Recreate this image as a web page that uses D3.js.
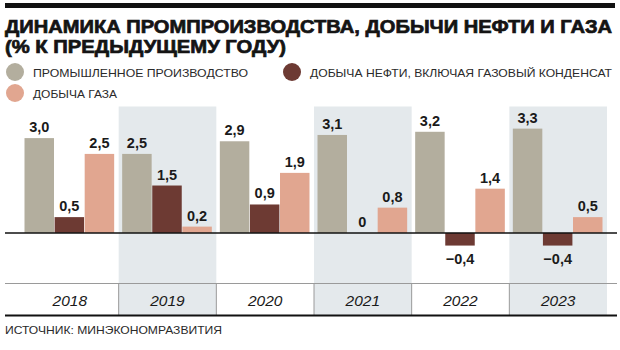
<!DOCTYPE html>
<html>
<head>
<meta charset="utf-8">
<script src="https://cdn.jsdelivr.net/npm/d3@7"></script>
<style>
  html, body { margin: 0; padding: 0; background: #fff; }
  svg { display: block; }
</style>
</head>
<body>
<svg id="chart" width="620" height="350"></svg>
<script>
const years = ["2018", "2019", "2020", "2021", "2022", "2023"];
const seriesNames = [
  "ПРОМЫШЛЕННОЕ ПРОИЗВОДСТВО",
  "ДОБЫЧА НЕФТИ, ВКЛЮЧАЯ ГАЗОВЫЙ КОНДЕНСАТ",
  "ДОБЫЧА ГАЗА"
];
const industry = [3.0, 2.5, 2.9, 3.1, 3.2, 3.3];
const oil = [0.5, 1.5, 0.9, 0, -0.4, -0.4];
const gas = [2.5, 0.2, 1.9, 0.8, 1.4, 0.5];
const colors = ["#b3ae9e", "#6d3a33", "#e1a690"];
const shadedYears = ["2019", "2021", "2023"];
const titleLines = ["ДИНАМИКА ПРОМПРОИЗВОДСТВА, ДОБЫЧИ НЕФТИ И ГАЗА", "(% К ПРЕДЫДУЩЕМУ ГОДУ)"];
const sourceText = "ИСТОЧНИК: МИНЭКОНОМРАЗВИТИЯ";

const svg = d3.select("#chart");
const seriesValues = [industry, oil, gas];

// top rule
svg.append("rect").attr("x", 5).attr("y", 3).attr("width", 610).attr("height", 5).attr("fill", "#111");

// title
const tl = [[33, 607], [53, 281]];
titleLines.forEach((t, i) => {
  svg.append("text").attr("x", 5).attr("y", tl[i][0])
    .attr("font-family", "Liberation Sans, Arial, sans-serif")
    .attr("font-weight", "bold").attr("font-size", 18.5)
    .attr("fill", "#141414").attr("stroke", "#141414").attr("stroke-width", 0.7)
    .attr("textLength", tl[i][1]).attr("lengthAdjust", "spacingAndGlyphs")
    .text(t);
});

// legend
const legendPos = [{cx: 15, cy: 72, tx: 33, ty: 76.5, w: 215}, {cx: 292, cy: 72, tx: 310, ty: 76.5, w: 302}, {cx: 15, cy: 93, tx: 33, ty: 98, w: 84}];
seriesNames.forEach((n, i) => {
  const p = legendPos[i];
  svg.append("circle").attr("cx", p.cx).attr("cy", p.cy).attr("r", 9).attr("fill", colors[i]);
  svg.append("text").attr("x", p.tx).attr("y", p.ty)
    .attr("font-family", "Liberation Sans, Arial, sans-serif")
    .attr("font-size", 11.5).attr("fill", "#2a2a2a")
    .attr("textLength", p.w).attr("lengthAdjust", "spacingAndGlyphs")
    .text(n);
});

// scales
const x = d3.scaleBand().domain(years).range([21, 607]).padding(0);
const xs = d3.scaleBand().domain(d3.range(3)).range([3.5, x.bandwidth() - 4.5]).paddingInner(0.02);
const y = d3.scaleLinear().domain([-1.6, 4.0]).range([283.5, 106.5]);

// shaded bands
svg.append("g").selectAll("rect").data(shadedYears).join("rect")
  .attr("x", d => x(d)).attr("y", y(4.0)).attr("width", x.bandwidth())
  .attr("height", 315 - y(4.0)).attr("fill", "#e4e9ec");

// bars
const groups = svg.append("g").selectAll("g").data(years).join("g")
  .attr("transform", d => `translate(${x(d)},0)`);
groups.each(function(yr, yi) {
  const g = d3.select(this);
  seriesValues.forEach((vals, si) => {
    const v = vals[yi];
    g.append("rect")
      .attr("x", xs(si)).attr("width", xs.bandwidth())
      .attr("y", y(Math.max(0, v))).attr("height", Math.abs(y(v) - y(0)))
      .attr("fill", colors[si]);
    const label = (v < 0 ? "\u2212" : "") + (v === 0 ? "0" : d3.format(".1f")(Math.abs(v)).replace(".", ","));
    g.append("text")
      .attr("x", xs(si) + xs.bandwidth() / 2)
      .attr("y", v < 0 ? y(v) + 18 : y(v) - 6)
      .attr("text-anchor", "middle")
      .attr("font-family", "Liberation Sans, Arial, sans-serif")
      .attr("font-weight", "bold").attr("font-size", 14.5)
      .attr("fill", "#1a1a1a")
      .text(label);
  });
});

// zero line
svg.append("line").attr("x1", 5).attr("x2", 617).attr("y1", y(0)).attr("y2", y(0))
  .attr("stroke", "#111").attr("stroke-width", 1.6);

// year axis area
svg.append("line").attr("x1", 5).attr("x2", 617).attr("y1", y(-1.6)).attr("y2", y(-1.6))
  .attr("stroke", "#9a9a9a").attr("stroke-width", 1);
svg.append("g").selectAll("line").data(years.slice(1)).join("line")
  .attr("x1", d => x(d)).attr("x2", d => x(d)).attr("y1", y(-1.6)).attr("y2", 315)
  .attr("stroke", "#9a9a9a").attr("stroke-width", 1);
svg.append("g").selectAll("text").data(years).join("text")
  .attr("x", d => x(d) + x.bandwidth() / 2).attr("y", 306)
  .attr("text-anchor", "middle")
  .attr("font-family", "Liberation Sans, Arial, sans-serif")
  .attr("font-style", "italic").attr("font-size", 15.5).attr("fill", "#1a1a1a")
  .text(d => d);
svg.append("line").attr("x1", 5).attr("x2", 617).attr("y1", 315.5).attr("y2", 315.5)
  .attr("stroke", "#111").attr("stroke-width", 2);

// source
svg.append("text").attr("x", 5).attr("y", 333.5)
  .attr("font-family", "Liberation Sans, Arial, sans-serif")
  .attr("font-size", 11.5).attr("fill", "#2a2a2a")
  .attr("textLength", 217).attr("lengthAdjust", "spacingAndGlyphs")
  .text(sourceText);
</script>
</body>
</html>
